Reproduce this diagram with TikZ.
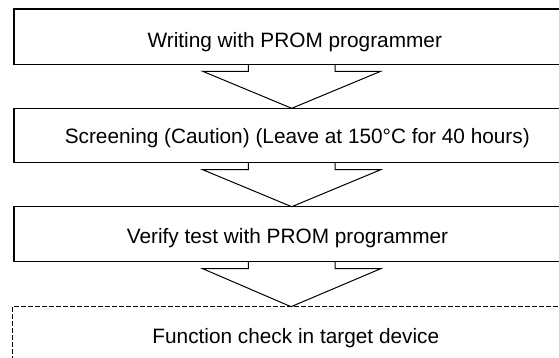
\documentclass[tikz,border=0pt]{standalone}
\usepackage{fontspec}
\setmainfont{Liberation Sans}
\usetikzlibrary{calc}
\begin{document}
\begin{tikzpicture}[x=1pt,y=-1pt,
  box/.style={draw=black,line width=1.1pt,minimum width=555.4pt,inner sep=0pt,outer sep=0pt},
  dbox/.style={box,dash pattern=on 5pt off 2pt},
  lbl/.style={anchor=base,inner sep=0pt,font=\fontsize{20.8}{24}\selectfont},
  arr/.style={draw=black,line width=1pt,line join=miter}]
\useasboundingbox (0,0) rectangle (559,358);
\clip (0,0) rectangle (559,358);
\node[box,minimum height=55.3pt] (b1) at (291.7,36.65) {};
\node[box,minimum height=54.4pt] (b2) at (291.7,135.5) {};
\node[box,minimum height=55pt] (b3) at (291.7,234.2) {};
\node[dbox,minimum height=55pt,minimum width=556.7pt] (b4) at (291.05,334.2) {};
\node[lbl] (t1) at (294.8,47.5) {Writing with PROM programmer};
\node[lbl] (t2) at (297.3,143.3) {Screening (Caution) (Leave at 150°C for 40 hours)};
\node[lbl] (t3) at (287.5,243.3) {Verify test with PROM programmer};
\node[lbl] (t4) at (295.8,343.4) {Function check in target device};
\foreach \a/\b in {b1/b2,b2/b3,b3/b4}{
  \draw[arr] ($(\a.south)+(-43.4,0)$) -- ++(0,7) -- ++(-45.6,0) -- (\b.north)
    -- ($(\a.south)+(89,7)$) -- ++(-45.6,0) -- ++(0,-7);
}
\end{tikzpicture}
\end{document}
